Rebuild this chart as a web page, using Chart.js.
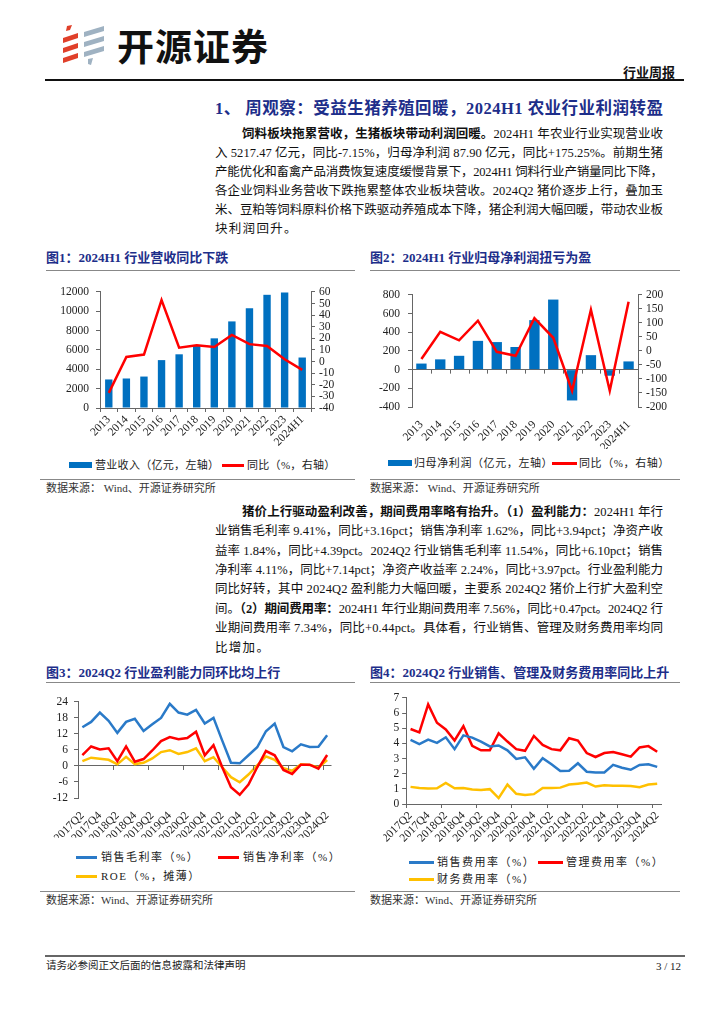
<!DOCTYPE html>
<html>
<head>
<meta charset="utf-8">
<script src="https://cdn.jsdelivr.net/npm/chart.js@4.4.1/dist/chart.umd.min.js"></script>
<style>
body{margin:0;background:#fff;}
#page{position:relative;width:724px;height:1024px;overflow:hidden;font-family:'Liberation Serif','Noto Sans CJK SC',serif;color:#111;}
.ln{position:absolute;left:215px;width:448px;font-size:12.5px;line-height:16px;height:16px;white-space:nowrap;}
.ctitle{position:absolute;font-size:13px;line-height:16px;font-weight:bold;color:#1d2e8a;white-space:nowrap;}
.rule{position:absolute;height:0;border-top:1px solid #888;}
.src{position:absolute;font-size:11px;line-height:14px;color:#333;white-space:nowrap;}
.leg{position:absolute;font-size:11px;line-height:14px;color:#222;white-space:nowrap;letter-spacing:1px;}
.sw{position:absolute;}
canvas{position:absolute;}
b{font-weight:bold;}
</style>
</head>
<body>
<div id="page">
  <!-- header -->
  <svg style="position:absolute;left:60px;top:24px" width="48" height="42" viewBox="0 0 48 42">
    <path d="M7 2 L12 1 L10 6 L6 7 Z" fill="#e0402a"/>
    <path d="M3 14 L18 9 L18 14 L3 19 Z" fill="#e0402a"/>
    <path d="M3 24 L18 19 L18 24 L3 29 Z" fill="#e0402a"/>
    <path d="M3 34 L18 29 L18 34 L3 39 Z" fill="#e0402a"/>
    <path d="M24 8 L44 2 L44 7 L24 13 Z" fill="#9fb2c2"/>
    <path d="M24 18 L44 12 L44 17 L24 23 Z" fill="#9fb2c2"/>
    <path d="M24 28 L44 22 L44 27 L24 33 Z" fill="#9fb2c2"/>
    <path d="M28 35 L33 34 L31 41 L28 40 Z" fill="#9fb2c2"/>
  </svg>
  <div style="position:absolute;left:117px;top:23px;font-family:'Noto Sans CJK SC';font-weight:bold;font-size:37px;line-height:44px;color:#111;letter-spacing:1px;white-space:nowrap">开源证券</div>
  <div style="position:absolute;left:623px;top:65px;font-size:13px;line-height:16px;font-weight:bold;white-space:nowrap">行业周报</div>
  <div class="rule" style="left:45px;top:79px;width:639px;border-top:2px solid #111"></div>

  <!-- section title -->
  <div class="ln" style="top:99px;height:20px;line-height:20px;font-size:16.5px;font-weight:bold;color:#1d2e8a">1、 周观察：受益生猪养殖回暖，2024H1 农业行业利润转盈</div>

  <!-- paragraph 1 -->
  <div class="ln" style="top:126px;left:242px;width:421px"><b>饲料板块拖累营收，生猪板块带动利润回暖。</b>2024H1 年农业行业实现营业收</div>
  <div class="ln" style="top:145px">入 5217.47 亿元，同比-7.15%，归母净利润 87.90 亿元，同比+175.25%。前期生猪</div>
  <div class="ln" style="top:164px">产能优化和畜禽产品消费恢复速度缓慢背景下，2024H1 饲料行业产销量同比下降，</div>
  <div class="ln" style="top:183px">各企业饲料业务营收下跌拖累整体农业板块营收。2024Q2 猪价逐步上行，叠加玉</div>
  <div class="ln" style="top:202px">米、豆粕等饲料原料价格下跌驱动养殖成本下降，猪企利润大幅回暖，带动农业板</div>
  <div class="ln last" style="top:221px;letter-spacing:1.3px">块利润回升。</div>

  <!-- figure 1 / 2 frames -->
  <div class="ctitle" style="left:46px;top:250px">图1：2024H1 行业营收同比下跌</div>
  <div class="rule" style="left:46px;top:270px;width:309px"></div>
  <div class="ctitle" style="left:370px;top:250px">图2：2024H1 行业归母净利润扭亏为盈</div>
  <div class="rule" style="left:370px;top:270px;width:310px"></div>

  <canvas id="c1" width="305" height="172" style="left:46px;top:278px"></canvas>
  <canvas id="c2" width="312" height="169" style="left:366px;top:280px"></canvas>

  <div class="sw" style="left:69px;top:462px;width:23px;height:6px;background:#0070c0"></div>
  <div class="leg" style="left:95px;top:458px;letter-spacing:0.3px">营业收入（亿元，左轴）</div>
  <div class="sw" style="left:222px;top:464px;width:22px;height:2.5px;background:#ff0000"></div>
  <div class="leg" style="left:247px;top:458px;letter-spacing:0.3px">同比（%，右轴）</div>

  <div class="sw" style="left:388px;top:460px;width:24px;height:6px;background:#0070c0"></div>
  <div class="leg" style="left:414px;top:456px;letter-spacing:0.6px">归母净利润（亿元，左轴）</div>
  <div class="sw" style="left:552px;top:462px;width:25px;height:2.5px;background:#ff0000"></div>
  <div class="leg" style="left:579px;top:456px;letter-spacing:0.6px">同比（%，右轴）</div>

  <div class="rule" style="left:40px;top:479px;width:315px"></div>
  <div class="src" style="left:46px;top:481px">数据来源：&nbsp;Wind、开源证券研究所</div>
  <div class="rule" style="left:370px;top:479px;width:310px"></div>
  <div class="src" style="left:370px;top:481px">数据来源：&nbsp;Wind、开源证券研究所</div>

  <!-- paragraph 2 -->
  <div class="ln" style="top:504px;left:242px;width:421px"><b>猪价上行驱动盈利改善，期间费用率略有抬升。（1）盈利能力：</b>2024H1 年行</div>
  <div class="ln" style="top:523px">业销售毛利率 9.41%，同比+3.16pct；销售净利率 1.62%，同比+3.94pct；净资产收</div>
  <div class="ln" style="top:543px">益率 1.84%，同比+4.39pct。2024Q2 行业销售毛利率 11.54%，同比+6.10pct；销售</div>
  <div class="ln" style="top:562px">净利率 4.11%，同比+7.14pct；净资产收益率 2.24%，同比+3.97pct。行业盈利能力</div>
  <div class="ln" style="top:581px">同比好转，其中 2024Q2 盈利能力大幅回暖，主要系 2024Q2 猪价上行扩大盈利空</div>
  <div class="ln" style="top:601px">间。<b>（2）期间费用率：</b>2024H1 年行业期间费用率 7.56%，同比+0.47pct。2024Q2 行</div>
  <div class="ln" style="top:620px">业期间费用率 7.34%，同比+0.44pct。具体看，行业销售、管理及财务费用率均同</div>
  <div class="ln last" style="top:640px;letter-spacing:1.3px">比增加。</div>

  <!-- figure 3 / 4 frames -->
  <div class="ctitle" style="left:46px;top:665px">图3：2024Q2 行业盈利能力同环比均上行</div>
  <div class="rule" style="left:46px;top:682px;width:309px"></div>
  <div class="ctitle" style="left:370px;top:665px">图4：2024Q2 行业销售、管理及财务费用率同比上升</div>
  <div class="rule" style="left:370px;top:682px;width:310px"></div>

  <canvas id="c3" width="294" height="149" style="left:46px;top:689px"></canvas>
  <canvas id="c4" width="285" height="154" style="left:383px;top:688px"></canvas>

  <div class="sw" style="left:76px;top:856px;width:21px;height:2.5px;background:#2a7ac8"></div>
  <div class="leg" style="left:101px;top:850px;letter-spacing:1.5px">销售毛利率（%）</div>
  <div class="sw" style="left:218px;top:856px;width:21px;height:2.5px;background:#ff0000"></div>
  <div class="leg" style="left:243px;top:850px;letter-spacing:1.5px">销售净利率（%）</div>
  <div class="sw" style="left:76px;top:875px;width:21px;height:2.5px;background:#ffc000"></div>
  <div class="leg" style="left:101px;top:869px;letter-spacing:1.5px">ROE（%，摊薄）</div>

  <div class="sw" style="left:409px;top:861px;width:25px;height:2.5px;background:#2a7ac8"></div>
  <div class="leg" style="left:437px;top:855px;letter-spacing:1.5px">销售费用率（%）</div>
  <div class="sw" style="left:538px;top:861px;width:25px;height:2.5px;background:#ff0000"></div>
  <div class="leg" style="left:566px;top:855px;letter-spacing:1.5px">管理费用率（%）</div>
  <div class="sw" style="left:409px;top:878px;width:25px;height:2.5px;background:#ffc000"></div>
  <div class="leg" style="left:437px;top:872px;letter-spacing:1.5px">财务费用率（%）</div>

  <div class="rule" style="left:40px;top:891px;width:315px"></div>
  <div class="src" style="left:46px;top:893px">数据来源：Wind、开源证券研究所</div>
  <div class="rule" style="left:370px;top:891px;width:310px"></div>
  <div class="src" style="left:370px;top:893px">数据来源：Wind、开源证券研究所</div>

  <!-- footer -->
  <div class="rule" style="left:45px;top:955px;width:640px;border-top:2px solid #666"></div>
  <div style="position:absolute;left:46px;top:959px;font-size:10.5px;line-height:14px;color:#222;white-space:nowrap">请务必参阅正文后面的信息披露和法律声明</div>
  <div style="position:absolute;left:600px;width:81px;top:959px;font-size:11px;line-height:14px;color:#222;text-align:right">3 / 12</div>
</div>

<script>
// 图1 / 图2 年度数据
const years = ['2013', '2014', '2015', '2016', '2017', '2018', '2019', '2020', '2021', '2022', '2023', '2024H1'];
const revenue = [2950, 3050, 3250, 4950, 5550, 6500, 7200, 8950, 10300, 11700, 11950, 5217.47];
const revenueYoy = [-27, 4, 6, 53, 12, 14, 12.6, 23, 15, 13.5, 2, -7.15];
const profit = [65, 110, 148, 308, 295, 242, 530, 750, -330, 155, -65, 87.9];
const profitYoy = [-29, 68, 38, 108, -3, -17, 117, 47, -142, 147, -142, 175.25];

// 图3 / 图4 季度数据
const quarters = ['2017Q2', '2017Q3', '2017Q4', '2018Q1', '2018Q2', '2018Q3', '2018Q4', '2019Q1', '2019Q2', '2019Q3',
  '2019Q4', '2020Q1', '2020Q2', '2020Q3', '2020Q4', '2021Q1', '2021Q2', '2021Q3', '2021Q4', '2022Q1',
  '2022Q2', '2022Q3', '2022Q4', '2023Q1', '2023Q2', '2023Q3', '2023Q4', '2024Q1', '2024Q2'];
const grossMargin = [14.5, 16.5, 20, 16.9, 12.4, 16.5, 17.7, 13.1, 15.6, 18, 23.3, 20, 19.2, 21, 15.9, 18, 9.5, 1.2, 1.0, 4,
  7, 13, 15.9, 7.1, 5.5, 8.1, 7.1, 7.2, 11.54];
const netMargin = [4.1, 7.3, 6.2, 6.6, 1.8, 7.3, 1.6, 2.6, 5.8, 9.3, 10.8, 10, 10.5, 12.8, 4, 7.8, -0.5, -8, -10.8, -7,
  -0.5, 5.6, 4, -1.5, -3, 0.5, 0.5, -1, 4.11];
const roe = [1.8, 3.1, 2.7, 2.3, 0.6, 3.4, 0.7, 1.2, 2.8, 5.2, 5.9, 4.5, 5.2, 6.6, 1.8, 3.3, -0.5, -4.2, -6.1, -3.2,
  0.2, 3.6, 2.3, -0.8, -1.8, 0.6, 0.4, -0.6, 2.24];
const sellingRate = [4.23, 3.95, 4.25, 4.03, 4.4, 3.62, 4.53, 4.38, 4.12, 3.8, 3.86, 3.54, 2.97, 3.08, 2.32, 3.02, 2.62, 2.17, 2.19, 2.69,
  2.13, 2.08, 2.08, 2.58, 2.39, 2.26, 2.58, 2.62, 2.45];
const adminRate = [4.95, 4.73, 6.57, 5.36, 4.92, 4.19, 5.14, 3.84, 3.54, 3.54, 4.66, 4.12, 3.62, 3.51, 4.49, 3.9, 3.62, 3.54, 4.34, 4.19,
  3.36, 3.1, 3.36, 3.43, 3.28, 3.12, 3.73, 3.82, 3.45];
const financeRate = [1.13, 1.06, 1.02, 1.04, 1.39, 1.04, 1.06, 0.95, 0.93, 0.98, 0.39, 1.28, 0.67, 0.59, 0.65, 1.06, 1.06, 1.08, 1.28, 1.34,
  1.41, 1.15, 1.24, 1.21, 1.21, 1.19, 1.11, 1.28, 1.34];

// spread each text line over its box width (the report text is fully justified)
document.querySelectorAll('.ln').forEach(function(el){
  if (el.classList.contains('last')) return;
  const r = document.createRange();
  r.selectNodeContents(el);
  const natural = r.getBoundingClientRect().width;
  const n = el.textContent.length;
  el.style.letterSpacing = ((el.clientWidth - natural) / (n - 1)) + 'px';
});

Chart.defaults.font.family = "'Liberation Serif', 'Noto Sans CJK SC', serif";
Chart.defaults.font.size = 11.5;
Chart.defaults.color = '#222';

const axisColor = '#666';

function fixW(w){ return function(s){ s.width = w; }; }
function fixH(h){ return function(s){ s.height = h; }; }
// only draw the zero line across the plot
function zeroLine(c){ return (c.tick && c.tick.value === 0) ? axisColor : 'rgba(0,0,0,0)'; }
function plain(v){ return String(v); }

// small tick marks hanging under the zero line, every n categories
function zeroTicks(every){
  return {
    id: 'zeroTicks',
    afterDatasetsDraw: function(chart){
      const x = chart.scales.x, y = chart.scales.y, ctx = chart.ctx;
      const y0 = y.getPixelForValue(0);
      const w = x.getPixelForTick(1) - x.getPixelForTick(0);
      const start = x.getPixelForTick(0) - w / 2;
      ctx.save();
      ctx.strokeStyle = axisColor;
      ctx.lineWidth = 1;
      for (let i = 0; i <= x.ticks.length; i += every) {
        const px = Math.round(start + i * w) + 0.5;
        ctx.beginPath();
        ctx.moveTo(px, y0);
        ctx.lineTo(px, y0 + 4);
        ctx.stroke();
      }
      ctx.restore();
    }
  };
}

const baseOpts = {
  responsive: false,
  animation: false,
  layout: {padding: {top: 7, left: 0, right: 0, bottom: 0}},
  plugins: {legend: {display: false}, tooltip: {enabled: false}}
};

// 图1
new Chart(document.getElementById('c1'), {
  data: {
    labels: years,
    datasets: [
      {type: 'line', data: revenueYoy, yAxisID: 'y1', borderColor: '#ff0000', borderWidth: 2.5, pointRadius: 0, tension: 0, order: 0},
      {type: 'bar', data: revenue, yAxisID: 'y', backgroundColor: '#0070c0', barPercentage: 0.42, categoryPercentage: 1, order: 1}
    ]
  },
  options: Object.assign({}, baseOpts, {
    scales: {
      x: {offset: true, grid: {offset: true, drawOnChartArea: false, tickLength: 4, color: axisColor},
          border: {color: axisColor}, ticks: {minRotation: 45, maxRotation: 45, padding: 1, autoSkip: false}, afterFit: fixH(42)},
      y: {position: 'left', min: 0, max: 12000, ticks: {stepSize: 2000, padding: 7, autoSkip: false, callback: plain},
          grid: {drawOnChartArea: false, tickLength: 4, color: axisColor}, border: {color: axisColor}, afterFit: fixW(54)},
      y1: {position: 'right', min: -40, max: 60, ticks: {stepSize: 10, padding: 4, autoSkip: false, callback: plain},
          grid: {drawOnChartArea: false, tickLength: 4, color: axisColor}, border: {color: axisColor}, afterFit: fixW(40)}
    }
  })
});

// 图2
new Chart(document.getElementById('c2'), {
  data: {
    labels: years,
    datasets: [
      {type: 'line', data: profitYoy, yAxisID: 'y1', borderColor: '#ff0000', borderWidth: 2.5, pointRadius: 0, tension: 0, order: 0},
      {type: 'bar', data: profit, yAxisID: 'y', backgroundColor: '#0070c0', barPercentage: 0.55, categoryPercentage: 1, order: 1}
    ]
  },
  plugins: [zeroTicks(1)],
  options: Object.assign({}, baseOpts, {
    scales: {
      x: {offset: true, grid: {display: false}, border: {display: false},
          ticks: {minRotation: 45, maxRotation: 45, padding: 3, autoSkip: false}, afterFit: fixH(42)},
      y: {position: 'left', min: -400, max: 800, ticks: {stepSize: 200, padding: 8, autoSkip: false, callback: plain},
          grid: {color: zeroLine, tickColor: axisColor, tickLength: 4}, border: {color: axisColor}, afterFit: fixW(46)},
      y1: {position: 'right', min: -200, max: 200, ticks: {stepSize: 50, padding: 4, autoSkip: false, callback: plain},
          grid: {drawOnChartArea: false, tickLength: 4, color: axisColor}, border: {color: axisColor}, afterFit: fixW(40)}
    }
  })
});

function qTick(v, i){ return i % 2 === 0 ? quarters[i] : ''; }

// 图3
new Chart(document.getElementById('c3'), {
  type: 'line',
  data: {
    labels: quarters,
    datasets: [
      {data: grossMargin, borderColor: '#2a7ac8', borderWidth: 2.5, pointRadius: 0, tension: 0},
      {data: netMargin, borderColor: '#ff0000', borderWidth: 2.5, pointRadius: 0, tension: 0},
      {data: roe, borderColor: '#ffc000', borderWidth: 2.5, pointRadius: 0, tension: 0}
    ]
  },
  plugins: [zeroTicks(4)],
  options: Object.assign({}, baseOpts, {
    layout: {padding: {top: 7, left: 0, right: 6, bottom: 0}},
    scales: {
      x: {offset: true, grid: {display: false}, border: {display: false},
          ticks: {minRotation: 45, maxRotation: 45, padding: 3, autoSkip: false, callback: qTick}, afterFit: fixH(40)},
      y: {min: -12, max: 24, ticks: {stepSize: 6, padding: 6, autoSkip: false, callback: plain},
          grid: {color: zeroLine, tickColor: axisColor, tickLength: 4}, border: {color: axisColor}, afterFit: fixW(32)}
    }
  })
});

// 图4
new Chart(document.getElementById('c4'), {
  type: 'line',
  data: {
    labels: quarters,
    datasets: [
      {data: sellingRate, borderColor: '#2a7ac8', borderWidth: 2.5, pointRadius: 0, tension: 0},
      {data: adminRate, borderColor: '#ff0000', borderWidth: 2.5, pointRadius: 0, tension: 0},
      {data: financeRate, borderColor: '#ffc000', borderWidth: 2.5, pointRadius: 0, tension: 0}
    ]
  },
  options: Object.assign({}, baseOpts, {
    layout: {padding: {top: 7, left: 0, right: 6, bottom: 0}},
    scales: {
      x: {offset: true,
          grid: {offset: true, drawOnChartArea: false, tickLength: 4,
                 color: function(c){ return c.index % 4 === 0 ? axisColor : 'rgba(0,0,0,0)'; }},
          border: {color: axisColor},
          ticks: {minRotation: 45, maxRotation: 45, padding: 1, autoSkip: false, callback: qTick}, afterFit: fixH(38)},
      y: {min: 0, max: 7, ticks: {stepSize: 1, padding: 3, autoSkip: false, callback: plain},
          grid: {drawOnChartArea: false, tickLength: 4, color: axisColor}, border: {color: axisColor}, afterFit: fixW(20)}
    }
  })
});
</script>
</body>
</html>
